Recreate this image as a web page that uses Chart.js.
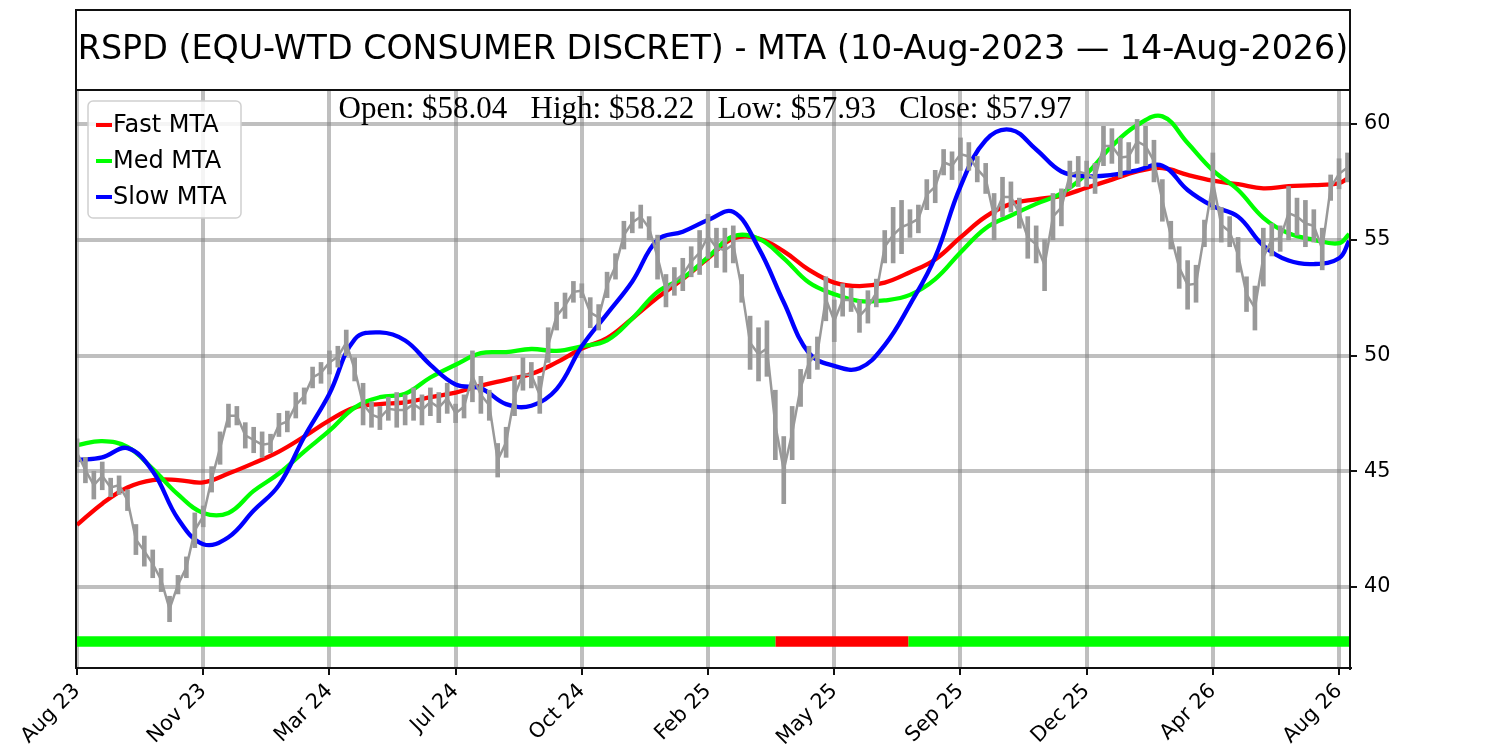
<!DOCTYPE html>
<html>
<head>
<meta charset="utf-8">
<script src="https://cdn.jsdelivr.net/npm/chart.js@4.4.1/dist/chart.umd.min.js"></script>
<style>
  html, body { margin: 0; padding: 0; background: #fff; }
  #wrap { width: 1500px; height: 750px; }
</style>
</head>
<body>
<div id="wrap"><canvas id="c" width="1500" height="750"></canvas></div>
<script>
// ---------------- DATA ----------------
const titleText = 'RSPD (EQU-WTD CONSUMER DISCRET) - MTA (10-Aug-2023 \u2014 14-Aug-2026)';
const ohlcText = 'Open: $58.04   High: $58.22   Low: $57.93   Close: $57.97';

// x axis: trading-day index; tick positions and labels
const tickIndex = [0, 75, 150, 225, 300, 375, 450, 525, 600, 675, 750];
const tickLabels = ['Aug 23', 'Nov 23', 'Mar 24', 'Jul 24', 'Oct 24', 'Feb 25', 'May 25', 'Sep 25', 'Dec 25', 'Apr 26', 'Aug 26'];
const yTicks = [40, 45, 50, 55, 60];

// price ranges, one bar every 5 trading days
const priceStep = 5;
const priceLow = [
  45.2, 44.5, 43.8, 44.2, 43.9, 44.0, 43.3, 41.4, 40.9, 40.4,
  39.8, 38.5, 39.7, 40.4, 41.7, 42.6, 44.1, 45.3, 46.9, 47.0,
  46.0, 45.8, 45.6, 45.8, 46.5, 46.7, 47.3, 47.9, 48.6, 48.8,
  49.2, 49.5, 50.0, 48.9, 47.0, 46.9, 46.8, 47.2, 46.9, 47.0,
  47.2, 47.0, 47.4, 47.1, 47.5, 47.1, 47.3, 48.0, 47.5, 47.2,
  44.75, 45.6, 47.4, 48.5, 48.6, 47.5, 49.7, 51.1, 51.6, 52.3,
  52.5, 51.2, 51.1, 52.5, 53.3, 54.6, 55.3, 55.5, 55.0, 53.3,
  52.1, 52.6, 52.8, 53.4, 53.5, 54.2, 53.8, 53.6, 54.0, 52.3,
  49.4, 48.9, 49.1, 45.5, 43.6, 45.5, 47.8, 49.0, 49.4, 51.5,
  50.6, 51.7, 51.9, 51.0, 51.4, 52.1, 54.0, 54.0, 54.4, 55.1,
  55.3, 56.3, 56.6, 57.8, 57.6, 58.0, 58.0, 57.5, 57.0, 55.0,
  56.0, 56.2, 55.5, 54.2, 54.0, 52.8, 55.0, 55.6, 57.2, 57.3,
  57.3, 57.0, 58.2, 58.3, 57.7, 58.0, 58.3, 58.2, 57.5, 55.8,
  54.6, 52.9, 52.0, 52.3, 54.7, 56.3, 54.9, 54.7, 53.6, 51.9,
  51.1, 53.0, 54.3, 54.5, 55.0, 55.2, 54.7, 54.9, 53.7, 56.7,
  57.2, 57.5
];
const priceHigh = [
  46.4, 45.6, 45.0, 45.4, 44.7, 44.8, 44.2, 42.7, 42.2, 41.6,
  40.8, 39.6, 40.5, 41.3, 43.2, 43.5, 45.2, 46.7, 47.9, 47.8,
  47.1, 46.9, 46.7, 46.6, 47.5, 47.6, 48.4, 48.6, 49.5, 49.7,
  50.2, 50.4, 51.1, 49.9, 48.8, 48.0, 47.8, 48.2, 48.4, 48.3,
  48.6, 48.3, 48.6, 48.4, 48.8, 47.9, 48.3, 50.2, 49.1, 48.5,
  46.2, 46.9, 49.1, 49.9, 49.7, 49.1, 51.2, 52.3, 52.7, 53.2,
  53.1, 52.5, 52.2, 53.6, 54.4, 55.8, 56.2, 56.5, 56.0, 55.2,
  53.5, 53.8, 54.2, 54.7, 55.4, 56.1, 55.5, 55.5, 55.6, 53.5,
  51.7, 51.2, 51.5, 48.5, 46.5, 47.8, 49.4, 50.4, 50.8, 53.4,
  52.4, 53.1, 52.9, 52.4, 52.8, 53.3, 55.4, 56.4, 56.7, 56.3,
  56.5, 57.6, 58.0, 58.9, 58.8, 59.4, 59.2, 58.6, 58.3, 57.0,
  57.7, 57.5, 56.8, 56.0, 55.6, 55.0, 57.0, 57.2, 58.4, 58.6,
  58.4, 58.3, 59.9, 59.8, 59.4, 59.2, 60.2, 59.9, 59.3, 57.6,
  55.8, 54.7, 54.1, 53.9, 55.85, 58.75, 56.4, 56.0, 55.1, 53.4,
  53.0, 55.5, 55.7, 55.6, 57.3, 56.8, 56.7, 56.3, 55.5, 57.8,
  58.5, 58.75
];

// moving-trend averages, sampled every 15 trading days (last at day 756)
const mtaStep = 15;
const mtaLastDay = 756;
const fastMTA = [
  42.68, 43.6, 44.3, 44.62, 44.62, 44.52, 44.9, 45.35, 45.85, 46.5,
  47.2, 47.75, 47.9, 47.97, 48.2, 48.4, 48.7, 48.95, 49.2, 49.7,
  50.3, 50.75, 51.6, 52.5, 53.3, 54.2, 55.05, 55.05, 54.5, 53.7,
  53.15, 53.0, 53.15, 53.6, 54.15, 55.1, 56.0, 56.55, 56.75, 56.9,
  57.25, 57.6, 57.95, 58.1, 57.8, 57.55, 57.4, 57.22, 57.32, 57.36,
  57.45, 57.7
];
const medMTA = [
  46.13, 46.3, 46.05, 45.1, 44.0, 43.2, 43.2, 44.15, 44.9, 45.85,
  46.75, 47.75, 48.2, 48.35, 49.05, 49.6, 50.1, 50.15, 50.28, 50.2,
  50.4, 50.65, 51.6, 52.75, 53.35, 54.25, 55.15, 55.05, 54.2, 53.15,
  52.65, 52.35, 52.38, 52.62, 53.3, 54.45, 55.5, 56.05, 56.55, 57.0,
  57.85, 59.05, 59.95, 60.33, 59.18, 58.0, 57.15, 55.95, 55.28, 55.0,
  54.85, 55.25
];
const slowMTA = [
  45.49, 45.6, 46.0, 45.0, 42.95, 41.85, 42.15, 43.3, 44.4, 46.48,
  48.35, 50.7, 51.0, 50.65, 49.6, 48.75, 48.58, 47.9, 47.83, 48.55,
  50.4, 51.8, 53.2, 55.0, 55.35, 55.85, 56.2, 54.65, 52.3, 50.1,
  49.55, 49.45, 50.45, 52.2, 54.25, 57.3, 59.3, 59.75, 58.9, 57.95,
  57.75, 57.8, 58.0, 58.2, 57.15, 56.45, 56.0, 54.75, 54.1, 53.95,
  54.2, 54.95
];

// trend signal band: segments of trading days, up (green) or down (red)
const signalFrom = [-1, 415, 494];
const signalTo = [415, 494, 758];
const signalUp = [true, false, true];
const signalLevel = 37.65;

// ---------------- BUILD ----------------
const mtaDays = fastMTA.map((_, i) => (i < fastMTA.length - 1 ? i * mtaStep : mtaLastDay));
const toPts = arr => arr.map((v, i) => ({ x: mtaDays[i], y: v }));
const pricePts = priceLow.map((lo, i) => ({ x: i * priceStep, y: [lo, priceHigh[i]] }));
const priceMid = priceLow.map((lo, i) => ({ x: i * priceStep, y: (lo + priceHigh[i]) / 2 }));

const lineDs = (label, arr, color, order) => ({
  type: 'line', label, data: toPts(arr), borderColor: color, backgroundColor: color,
  borderWidth: 4.3, pointRadius: 0, tension: 0.4, fill: false, order
});

const signalDs = signalFrom.map((f, i) => ({
  type: 'line', label: 'signal' + i,
  data: [{ x: f, y: signalLevel }, { x: signalTo[i], y: signalLevel }],
  borderColor: signalUp[i] ? '#00ff00' : '#ff0000',
  borderWidth: 10.5, pointRadius: 0, borderCapStyle: 'butt', order: 5
}));

const legendItems = [
  { text: 'Fast MTA', color: '#ff0000' },
  { text: 'Med MTA', color: '#00ff00' },
  { text: 'Slow MTA', color: '#0000ff' }
];

const overlay = {
  id: 'overlay',
  afterDraw(chart) {
    const { ctx, chartArea: a } = chart;
    ctx.save();
    // frame + title box
    ctx.strokeStyle = '#111';
    ctx.lineWidth = 2;
    ctx.strokeRect(a.left, a.top, a.right - a.left, a.bottom - a.top);
    ctx.strokeRect(a.left, 10, a.right - a.left, a.top - 10);
    // OHLC text
    ctx.fillStyle = '#000';
    ctx.font = "31px 'Liberation Serif'";
    ctx.textAlign = 'center';
    ctx.textBaseline = 'middle';
    ctx.fillText(ohlcText, (a.left + a.right) / 2 - 8, a.top + 20);
    // legend
    const bx = a.left + 12, by = a.top + 11, bw = 153, bh = 117, r = 5;
    ctx.beginPath();
    ctx.moveTo(bx + r, by);
    ctx.arcTo(bx + bw, by, bx + bw, by + bh, r);
    ctx.arcTo(bx + bw, by + bh, bx, by + bh, r);
    ctx.arcTo(bx, by + bh, bx, by, r);
    ctx.arcTo(bx, by, bx + bw, by, r);
    ctx.closePath();
    ctx.fillStyle = 'rgba(255,255,255,0.85)';
    ctx.fill();
    ctx.strokeStyle = '#d0d0d0';
    ctx.lineWidth = 1.5;
    ctx.stroke();
    ctx.font = "24px 'DejaVu Sans'";
    ctx.textAlign = 'left';
    legendItems.forEach((it, i) => {
      const y = by + 24 + i * 36;
      ctx.strokeStyle = it.color;
      ctx.lineWidth = 4;
      ctx.beginPath();
      ctx.moveTo(bx + 8, y);
      ctx.lineTo(bx + 24, y);
      ctx.stroke();
      ctx.fillStyle = '#000';
      ctx.fillText(it.text, bx + 25, y + 1);
    });
    ctx.restore();
  }
};

Chart.defaults.font.family = "'DejaVu Sans'";
Chart.defaults.color = '#000';

new Chart(document.getElementById('c'), {
  type: 'bar',
  data: {
    datasets: [
      {
        type: 'bar', label: 'Price', data: pricePts,
        backgroundColor: '#999999', borderWidth: 0, barThickness: 4, order: 0
      },
      {
        type: 'line', label: 'PriceTrace', data: priceMid,
        borderColor: '#999999', borderWidth: 2.5, pointRadius: 0, tension: 0, order: 0
      },
      lineDs('Fast MTA', fastMTA, '#ff0000', 3),
      lineDs('Med MTA', medMTA, '#00ff00', 2),
      lineDs('Slow MTA', slowMTA, '#0000ff', 1),
      ...signalDs
    ]
  },
  options: {
    responsive: false,
    animation: false,
    devicePixelRatio: 1,
    events: [],
    layout: { padding: { left: 76, top: 10, right: 0, bottom: 0 } },
    plugins: {
      legend: { display: false },
      tooltip: { enabled: false },
      title: {
        display: true, text: titleText, fullSize: false, color: '#000',
        font: { size: 33.3, weight: 'normal', lineHeight: 1.0 },
        padding: { top: 23.35, bottom: 23.35 }
      }
    },
    scales: {
      x: {
        type: 'linear', min: -0.6, max: 756.5, offset: false,
        afterBuildTicks: s => { s.ticks = tickIndex.map(v => ({ value: v })); },
        afterFit: s => { s.height = 82; },
        ticks: {
          autoSkip: false, minRotation: 45, maxRotation: 45,
          font: { size: 20.8 }, color: '#000', padding: 4,
          callback: v => tickLabels[tickIndex.indexOf(v)] || ''
        },
        grid: {
          offset: false,
          color: 'rgba(128,128,128,0.5)', lineWidth: 4,
          tickColor: '#111', tickWidth: 2, tickLength: 7
        },
        border: { display: true, color: '#111', width: 2 }
      },
      y: {
        type: 'linear', position: 'right', min: 36.5, max: 61.47,
        afterBuildTicks: s => { s.ticks = yTicks.map(v => ({ value: v })); },
        afterFit: s => { s.width = 150; },
        ticks: { font: { size: 20.8 }, color: '#000', padding: 7 },
        grid: {
          offset: false,
          color: 'rgba(128,128,128,0.5)', lineWidth: 4,
          tickColor: '#111', tickWidth: 2, tickLength: 7
        },
        border: { display: true, color: '#111', width: 2 }
      }
    }
  },
  plugins: [overlay]
});
</script>
</body>
</html>
